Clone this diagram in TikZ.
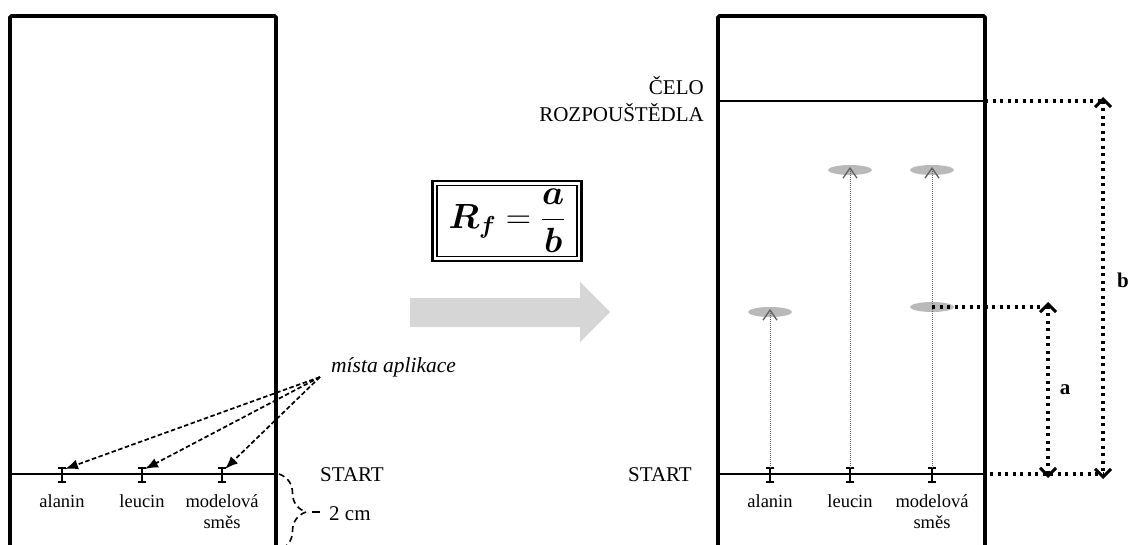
\RequirePackage{fix-cm}
\documentclass[tikz,border=0pt]{standalone}
\usepackage{amsmath}
\usepackage{fontspec}
\setmainfont{Liberation Serif}
\usetikzlibrary{arrows.meta,decorations.pathreplacing,shapes.geometric}

\tikzset{
  plate/.style={line width=3.6pt, rounded corners=1.5pt},
  startline/.style={line width=2pt},
  lbl/.style={font=\fontsize{18.5}{21}\selectfont, inner sep=0pt},
  big/.style={font=\fontsize{21}{27}\selectfont, inner sep=0pt},
  pointer/.style={dash pattern=on 4.5pt off 2.5pt, line width=1.7pt,
    -{Latex[length=13pt,width=10pt]}},
  spot/.style={ellipse, fill=gray!55, minimum width=44pt, minimum height=10pt, inner sep=0pt},
  climb/.style={gray!75!black, line width=0.8pt, dash pattern=on 1pt off 1pt,
    -{Straight Barb[length=10pt,width=14pt,line width=1.3pt]}},
  measure/.style={line width=3.6pt, dash pattern=on 3pt off 4.5pt},
  measurearrow/.style={measure,
    {Straight Barb[length=8pt,width=16pt,line width=3pt]}-{Straight Barb[length=8pt,width=16pt,line width=3pt]}},
  formulabox/.style={draw, line width=1.2pt, minimum width=140pt, minimum height=71pt,
    inner sep=0pt, font=\fontsize{35}{42}\selectfont},
  ibeam/.pic={
    \draw[line width=2pt] (-4,-7) -- (4,-7) (0,-7) -- (0,7) (-4,7) -- (4,7);
    \coordinate (-top) at (0,-7);
    \coordinate (-tip) at (3,-6);
  }
}

\begin{document}
\begin{tikzpicture}[x=1pt,y=-1pt]
\useasboundingbox (0,0) rectangle (1129,545);
\clip (0,0) rectangle (1129,545);

% ---------- left plate: before development ----------
\draw[plate] (10,560) -- (10,16) -- (276,16) -- (276,560);
\draw[startline] (10,474) -- (276,474);
\pic (la) at (62,475) {ibeam};
\pic (ll) at (142,475) {ibeam};
\pic (lm) at (222,475) {ibeam};
\node[lbl, anchor=base] at (62,507) {alanin};
\node[lbl, anchor=base] at (142,507) {leucin};
\node[lbl, anchor=base] at (222,507) {modelová};
\node[lbl, anchor=base] at (222,528) {směs};
\node[big, anchor=base west] (startL) at (320,481) {START};

% application points
\node[big, anchor=base west, font=\fontsize{21.5}{24}\selectfont\itshape] (mista) at (331,372) {místa aplikace};
\coordinate (hub) at (320,377);
\draw[pointer] (hub) -- (la-tip);
\draw[pointer] (hub) -- (ll-tip);
\draw[pointer] (hub) -- (lm-tip);

% 2 cm brace
\draw[line width=1.6pt, dash pattern=on 6pt off 4pt, decorate,
  decoration={brace, amplitude=27pt, aspect=0.5}] (279,474) -- (279,550);
\coordinate (braceTip) at (312,512);
\draw[line width=1.6pt] (braceTip) -- (320,512);
\node[big, anchor=base west] (twocm) at (329,520) {2 cm};

% ---------- formula ----------
\node[formulabox] (rf) at (507,221) {$\boldsymbol{R_f}=\dfrac{\boldsymbol{a}}{\boldsymbol{b}}$};
\draw[line width=2.4pt] ([shift={(-4,-4)}]rf.north west) rectangle ([shift={(4,4)}]rf.south east);

% development arrow
\fill[gray!32] (410,298) -- (580,298) -- (580,282) -- (610,312) -- (580,342) -- (580,327) -- (410,327) -- cycle;

% ---------- right plate: after development ----------
\draw[plate] (718,560) -- (718,16) -- (985,16) -- (985,560);
\draw[startline] (718,101) -- (985,101);
\draw[startline] (718,474) -- (985,474);
\node[big, align=right, anchor=base east] (front) at (704,122) {ČELO\\ROZPOUŠTĚDLA};
\node[big, anchor=base east] (startR) at (692,481) {START};

\pic (ra) at (770,475) {ibeam};
\pic (rl) at (850,475) {ibeam};
\pic (rm) at (932,475) {ibeam};
\node[lbl, anchor=base] at (770,507) {alanin};
\node[lbl, anchor=base] at (850,507) {leucin};
\node[lbl, anchor=base] at (932,507) {modelová};
\node[lbl, anchor=base] at (932,528) {směs};

\node[spot] (sa) at (770,312) {};
\node[spot] (sl) at (850,170) {};
\node[spot] (sm1) at (932,307) {};
\node[spot] (sm2) at (932,170) {};

\draw[climb] (ra-top) -- ([yshift=3pt]sa.center);
\draw[climb] (rl-top) -- ([yshift=3pt]sl.center);
\draw[climb] (rm-top) -- ([yshift=3pt]sm2.center);

% measured distances
\coordinate (fr) at (985,101);
\coordinate (bTop) at (1103,101);
\coordinate (bBot) at (1103,474);
\coordinate (aTop) at (1048,307);
\coordinate (aBot) at (1048,474);
\coordinate (st) at (990,474);
\draw[measure] (fr) -- (bTop);
\draw[measure] (sm1.center) -- (aTop);
\draw[measure] (st) -- (bBot);
\draw[measurearrow] ([yshift=4pt]bTop) -- ([yshift=-5pt]bBot);
\draw[measurearrow] ([yshift=5pt]aTop) -- ([yshift=-4pt]aBot);
\node[font=\fontsize{21}{24}\selectfont\bfseries] (bl) at (1123,280) {b};
\node[font=\fontsize{21}{24}\selectfont\bfseries] (al) at (1065,390) {a};
\end{tikzpicture}
\end{document}
